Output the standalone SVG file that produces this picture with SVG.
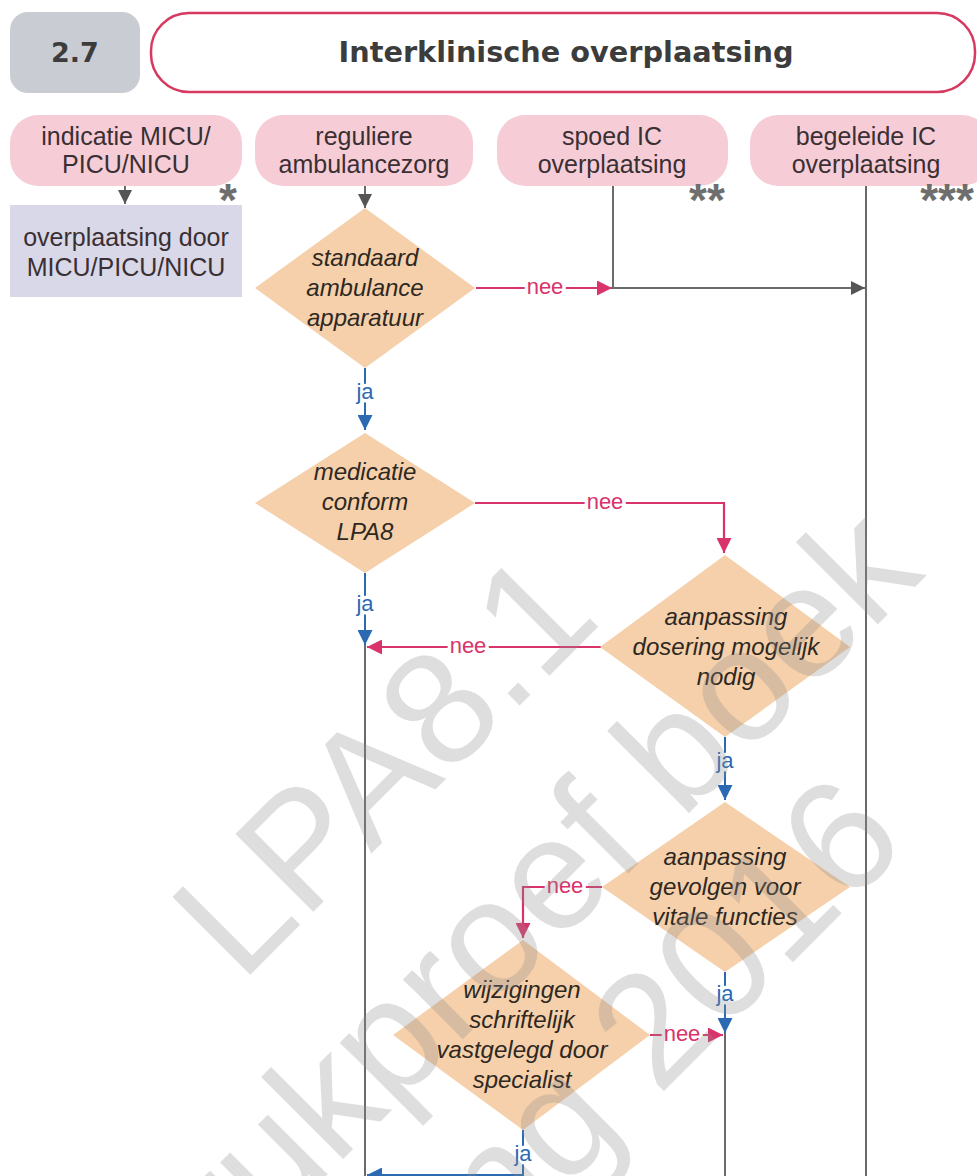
<svg xmlns="http://www.w3.org/2000/svg" width="977" height="1176" viewBox="0 0 977 1176">
  <defs>
    <style>
      .start rect { fill: #f6cdd7; }
      .txt { font-family: "Liberation Sans", Arial, sans-serif; font-size: 25px; fill: #3a2f33; text-anchor: middle; }
      .dec polygon { fill: #f5d0aa; }
      .dtxt { font-family: "Liberation Sans", Arial, sans-serif; font-size: 24px; font-style: italic; fill: #2e2823; text-anchor: middle; }
      .gray { fill: none; stroke: #6a6a6a; stroke-width: 2; }
      .nee { fill: none; stroke: #d8336b; stroke-width: 2.2; }
      .ja { fill: none; stroke: #2b6ab3; stroke-width: 2; }
      .lbl { font-family: "Liberation Sans", Arial, sans-serif; font-size: 22px; text-anchor: middle; paint-order: stroke; stroke: #ffffff; stroke-width: 7px; stroke-linejoin: round; }
      .lnee { fill: #d8336b; }
      .lja { fill: #2b6ab3; }
      .star { font-family: "Liberation Sans", Arial, sans-serif; font-size: 46px; font-weight: bold; fill: #6e6e6e; text-anchor: middle; }
      .wm { font-family: "Liberation Sans", Arial, sans-serif; font-size: 160px; fill: #8c8c8c; fill-opacity: 0.29; }
    </style>
    <marker id="ah-gray" viewBox="0 0 14 14" refX="14" refY="7" markerWidth="14" markerHeight="14" markerUnits="userSpaceOnUse" orient="auto">
      <path d="M0,0 L14,7 L0,14 z" fill="#555555"/>
    </marker>
    <marker id="ah-nee" viewBox="0 0 14 14" refX="14" refY="7" markerWidth="16" markerHeight="15" markerUnits="userSpaceOnUse" orient="auto">
      <path d="M0,0 L14,7 L0,14 z" fill="#d8336b"/>
    </marker>
    <marker id="ah-ja" viewBox="0 0 14 14" refX="14" refY="7" markerWidth="15" markerHeight="15" markerUnits="userSpaceOnUse" orient="auto">
      <path d="M0,0 L14,7 L0,14 z" fill="#2b6ab3"/>
    </marker>
  </defs>

  <rect width="977" height="1176" fill="#ffffff"/>

  <!-- header -->
  <g id="chapter">
    <rect x="10" y="12" width="130" height="81" rx="18" fill="#c9cdd3"/>
    <text x="75" y="62" font-family="DejaVu Sans, Verdana, sans-serif" font-weight="bold" font-size="27" text-anchor="middle" fill="#3c3c3c">2.7</text>
  </g>
  <g id="title">
    <rect x="151" y="13" width="824" height="79" rx="38" fill="#ffffff" stroke="#d63a60" stroke-width="2.5"/>
    <text x="566" y="62" font-family="DejaVu Sans, Verdana, sans-serif" font-weight="bold" font-size="29" text-anchor="middle" fill="#3c3c3c" textLength="455" lengthAdjust="spacingAndGlyphs">Interklinische overplaatsing</text>
  </g>

  <!-- connectors -->
  <g id="connectors">
    <path class="gray" d="M125,186 V204" marker-end="url(#ah-gray)"/>
    <path class="gray" d="M365,186 V208" marker-end="url(#ah-gray)"/>
    <path class="gray" d="M613,186 V288 H865" marker-end="url(#ah-gray)"/>
    <path class="gray" d="M866,186 V1176"/>
    <path class="gray" d="M365,645 V1176"/>
    <path class="gray" d="M725,1033 V1176"/>

    <path class="nee" d="M476,288 H612" marker-end="url(#ah-nee)"/>
    <path class="nee" d="M475,503 H724 V553" marker-end="url(#ah-nee)"/>
    <path class="nee" d="M601,647 H367" marker-end="url(#ah-nee)"/>
    <path class="nee" d="M602,887 H523 V938" marker-end="url(#ah-nee)"/>
    <path class="nee" d="M650,1035 H723" marker-end="url(#ah-nee)"/>

    <path class="ja" d="M365,368 V430" marker-end="url(#ah-ja)"/>
    <path class="ja" d="M365,573 V645" marker-end="url(#ah-ja)"/>
    <path class="ja" d="M725,737 V800" marker-end="url(#ah-ja)"/>
    <path class="ja" d="M725,972 V1033" marker-end="url(#ah-ja)"/>
    <path class="ja" d="M523,1130 V1175 H367" marker-end="url(#ah-ja)"/>

    <text class="lbl lnee" x="545" y="294">nee</text>
    <text class="lbl lnee" x="605" y="509">nee</text>
    <text class="lbl lnee" x="468" y="653">nee</text>
    <text class="lbl lnee" x="565" y="893">nee</text>
    <text class="lbl lnee" x="682" y="1041">nee</text>

    <text class="lbl lja" x="365" y="399">ja</text>
    <text class="lbl lja" x="365" y="611">ja</text>
    <text class="lbl lja" x="725" y="768">ja</text>
    <text class="lbl lja" x="725" y="1001">ja</text>
    <text class="lbl lja" x="523" y="1161">ja</text>
  </g>

  <!-- start nodes -->
  <g id="indicatie-micu" class="start">
    <rect x="10" y="115" width="232" height="71" rx="28"/>
    <text class="txt" x="126" y="145">indicatie MICU/</text>
    <text class="txt" x="126" y="173">PICU/NICU</text>
    <text class="star" x="228" y="216">*</text>
  </g>
  <g id="reguliere-ambulancezorg" class="start">
    <rect x="255" y="115" width="218" height="71" rx="28"/>
    <text class="txt" x="364" y="145">reguliere</text>
    <text class="txt" x="364" y="173">ambulancezorg</text>
  </g>
  <g id="spoed-ic" class="start">
    <rect x="497" y="115" width="231" height="71" rx="28"/>
    <text class="txt" x="612" y="145">spoed IC</text>
    <text class="txt" x="612" y="173">overplaatsing</text>
    <text class="star" x="707" y="216">**</text>
  </g>
  <g id="begeleide-ic" class="start">
    <rect x="750" y="115" width="240" height="71" rx="28"/>
    <text class="txt" x="866" y="145">begeleide IC</text>
    <text class="txt" x="866" y="173">overplaatsing</text>
    <text class="star" x="947" y="216">***</text>
  </g>

  <g id="overplaatsing-micu">
    <rect x="10" y="205" width="232" height="92" fill="#d9d8e8"/>
    <text class="txt" x="126" y="246">overplaatsing door</text>
    <text class="txt" x="126" y="276">MICU/PICU/NICU</text>
  </g>

  <!-- decisions -->
  <g id="standaard-apparatuur" class="dec">
    <polygon points="365,208 475,288 365,368 255,288"/>
    <text class="dtxt" x="365" y="266">standaard</text>
    <text class="dtxt" x="365" y="296">ambulance</text>
    <text class="dtxt" x="365" y="326">apparatuur</text>
  </g>
  <g id="medicatie-lpa8" class="dec">
    <polygon points="365,433 475,503 365,573 255,503"/>
    <text class="dtxt" x="365" y="480">medicatie</text>
    <text class="dtxt" x="365" y="510">conform</text>
    <text class="dtxt" x="365" y="540">LPA8</text>
  </g>
  <g id="aanpassing-dosering" class="dec">
    <polygon points="725,555 850,647 725,737 600,647"/>
    <text class="dtxt" x="726" y="625">aanpassing</text>
    <text class="dtxt" x="726" y="655">dosering mogelijk</text>
    <text class="dtxt" x="726" y="685">nodig</text>
  </g>
  <g id="aanpassing-gevolgen" class="dec">
    <polygon points="725,802 850,887 725,972 602,887"/>
    <text class="dtxt" x="725" y="865">aanpassing</text>
    <text class="dtxt" x="725" y="895">gevolgen voor</text>
    <text class="dtxt" x="725" y="925">vitale functies</text>
  </g>
  <g id="wijzigingen-vastgelegd" class="dec">
    <polygon points="523,940 650,1035 523,1130 393,1035"/>
    <text class="dtxt" x="522" y="998">wijzigingen</text>
    <text class="dtxt" x="522" y="1028">schriftelijk</text>
    <text class="dtxt" x="522" y="1058">vastgelegd door</text>
    <text class="dtxt" x="522" y="1088">specialist</text>
  </g>

  <!-- proof watermark, running off the page edge -->
  <g id="watermark">
    <text class="wm" transform="translate(241,984) rotate(-45)">LPA8.1</text>
    <text class="wm" transform="translate(172,1330) rotate(-45)">drukproef boek</text>
    <text class="wm" text-anchor="end" transform="translate(910,845) rotate(-45)">ing 2016</text>
  </g>
</svg>
